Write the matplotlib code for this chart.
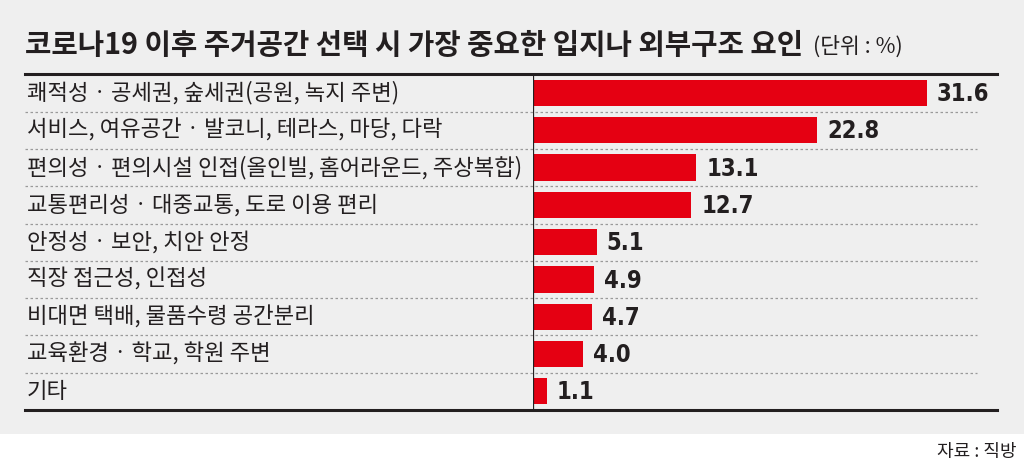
import matplotlib.pyplot as plt
import matplotlib.transforms as mtransforms
from matplotlib import font_manager
from matplotlib.lines import Line2D
from matplotlib.patches import Rectangle

plt.rcParams['font.family'] = ['Noto Sans CJK KR', 'DejaVu Sans']

title = '코로나19 이후 주거공간 선택 시 가장 중요한 입지나 외부구조 요인'
unit = '(단위 : %)'
source = '자료 : 직방'
labels = [
    '쾌적성 · 공세권, 숲세권(공원, 녹지 주변)',
    '서비스, 여유공간 · 발코니, 테라스, 마당, 다락',
    '편의성 · 편의시설 인접(올인빌, 홈어라운드, 주상복합)',
    '교통편리성 · 대중교통, 도로 이용 편리',
    '안정성 · 보안, 치안 안정',
    '직장 접근성, 인접성',
    '비대면 택배, 물품수령 공간분리',
    '교육환경 · 학교, 학원 주변',
    '기타',
]
values = [31.6, 22.8, 13.1, 12.7, 5.1, 4.9, 4.7, 4.0, 1.1]

W, H = 1024, 461
red = '#e50012'
dark = '#231f20'
bg = '#efefef'


def number_font():
    # a narrow bold face for the values, if one is installed
    fonts = font_manager.fontManager.ttflist
    names = {f.name for f in fonts}
    if 'Liberation Sans Narrow' in names:
        return dict(family='Liberation Sans Narrow', fontsize=18.5)
    for f in fonts:
        if f.name == 'DejaVu Sans' and f.stretch == 'condensed' and f.weight in ('bold', 700):
            return dict(family='DejaVu Sans', fontstretch='condensed', fontsize=17)
    for nm in ('Roboto Condensed', 'Open Sans Condensed'):
        if nm in names:
            return dict(family=nm, fontsize=18.5)
    return dict(family='Liberation Sans', fontsize=16.5)


fig = plt.figure(figsize=(W / 100, H / 100), dpi=100)
fig.patch.set_facecolor('white')
fig.patches.append(Rectangle((0, 1 - 434 / H), 1, 434 / H, transform=fig.transFigure,
                             facecolor=bg, edgecolor='none', zorder=-1))

x0, x1 = 533, 997
ytop, ybot = 74.3, 410
ax = fig.add_axes([x0 / W, 1 - ybot / H, (x1 - x0) / W, (ybot - ytop) / H])
ax.set_facecolor('none')
ypos = list(range(len(values)))
ax.barh(ypos, values, height=0.7, color=red, zorder=3)
ax.set_xlim(0, (x1 - x0) / 12.47)
ax.set_ylim(len(values) - 0.5, -0.5)
for s in ax.spines.values():
    s.set_visible(False)
ax.set_xticks([])
ax.set_yticks([])
ax.axvline(0, color=dark, lw=0.9, zorder=4)

nf = number_font()
for y, v in zip(ypos, values):
    ax.text(v + 0.8, y + 0.03, f'{v:.1f}', va='center', ha='left',
            fontweight='bold', color=dark, **nf)

trans = mtransforms.blended_transform_factory(fig.transFigure, ax.transData)
for y, lab in zip(ypos, labels):
    fig.text(27 / W, y, lab, transform=trans, va='center', ha='left', fontsize=16, color=dark)

# row separators
for k in range(1, len(values)):
    fig.lines.append(Line2D([25 / W, 977 / W], [k - 0.5, k - 0.5], transform=trans,
                            color='#9a9a9a', lw=0.9, ls=(0, (2, 2)), zorder=2))
for yy in (-0.5, len(values) - 0.5):
    fig.lines.append(Line2D([25 / W, x1 / W], [yy, yy], transform=trans,
                            color=dark, lw=2.2, zorder=5))

t = fig.text(25 / W, 1 - 45 / H, title, fontsize=20.7, fontweight='bold', color=dark,
             va='center', ha='left')
fig.add_artist(plt.Annotation(unit, xy=(1, 0.45), xycoords=t, xytext=(7, 0),
                              textcoords='offset points', fontsize=15.5, color=dark,
                              va='center', ha='left'))

fig.text(1017 / W, 1 - 452 / H, source, fontsize=13, color=dark, va='center', ha='right')

fig.savefig('out.png', dpi=100, facecolor=fig.get_facecolor())
